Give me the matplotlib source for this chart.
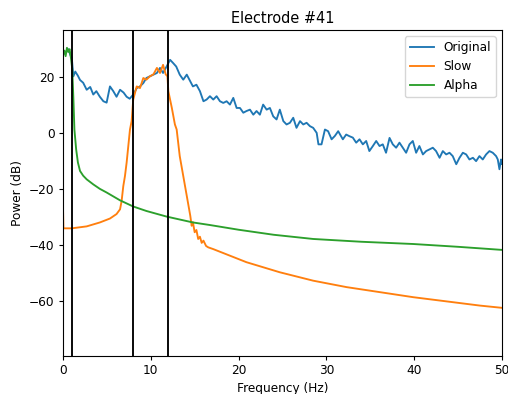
import numpy as np
import matplotlib.pyplot as plt

# Original PSD (dB)
orig_f = [0.0, 0.3, 0.6, 0.9, 1.0, 1.18, 1.4, 1.7, 1.94, 2.3, 2.7, 3.1, 3.45, 3.8, 4.2, 4.6,
          4.97, 5.35, 5.73, 6.1, 6.5, 6.9, 7.25, 7.6, 8.0, 8.4, 8.77, 9.15, 9.5, 9.9, 10.3,
          10.7, 11.05, 11.4, 11.8, 12.2, 12.56, 12.9, 13.3, 13.7, 14.1, 14.4, 14.8, 15.2,
          15.6, 16.0, 16.36, 16.74, 17.12, 17.5, 17.88, 18.26, 18.64, 19.02, 19.4, 19.78,
          20.16, 20.54, 20.9, 21.3, 21.68, 22.05, 22.43, 22.8, 23.2, 23.57, 23.95, 24.33,
          24.7, 25.1, 25.47, 25.85, 26.23, 26.6, 27.0, 27.37, 27.75, 28.13, 28.5, 28.9,
          29.1, 29.45, 29.84, 30.2, 30.6, 30.97, 31.35, 31.88, 32.26, 32.64, 33.02, 33.4,
          33.78, 34.16, 34.54, 34.9, 35.3, 35.68, 36.06, 36.43, 36.8, 37.2, 37.57, 37.95,
          38.33, 38.71, 39.09, 39.47, 39.85, 40.23, 40.6, 41.0, 41.37, 41.75, 42.13, 42.5,
          42.9, 43.27, 43.65, 44.03, 44.4, 44.8, 45.17, 45.55, 45.93, 46.3, 46.7, 47.06,
          47.44, 47.82, 48.2, 48.58, 48.96, 49.34, 49.53, 49.72, 49.9, 50.0]
orig_db = [28, 29, 30, 27.5, 27, 20.3, 22, 20.5, 19, 18, 15.5, 16.5, 13.8, 15, 13, 11.4,
           10.9, 16.7, 15, 13, 15.5, 14.5, 13, 12.3, 13.8, 16.1, 16.7, 17.9, 19.7, 20.3, 20.9,
           21.5, 23.3, 21.5, 23.8, 26.2, 25, 23.8, 20.9, 19.1, 20.9, 19.1, 16.7, 17.3,
           15, 11.4, 12, 13.2, 12, 13.2, 11.4, 10.8, 11.4, 10.2, 12.6, 9,
           9, 7.3, 7.9, 8.4, 6.6, 7.9, 6.6, 10.2, 8.4, 9, 6, 4.9,
           8.4, 4.3, 3.1, 3.7, 5.5, 1.9, 4.3, 3.1, 3.7, 2.5, 1.9, 0.1,
           -4, -4, 1.3, 0.7, -2.2, -1, 0.7, -2.2, -0.5, -1.1, -1.6, -3.4,
           -2.2, -4, -2.8, -6.4, -4.6, -2.8, -4.6, -4, -7, -1.7, -4, -5.2,
           -3.4, -5.2, -7, -4, -2.8, -7, -4.6, -7.6, -6.4, -5.8, -5.2, -6.4,
           -8.8, -6.4, -7.6, -7, -8.2, -11.1, -8.8, -7, -7.6, -9.4, -8.8, -10,
           -8.2, -9.4, -7.6, -6.4, -7, -8.2, -9.4, -12.9, -9.4, -11]

# Slow band (1-12 Hz) filtered PSD
slow_f = [0.0, 0.05, 1.0, 2.7, 4.2, 5.35, 6.1, 6.5, 6.68, 6.87, 7.06, 7.25, 7.44, 7.63,
          7.82, 8.0, 8.4, 8.77, 9.15, 9.5, 9.9, 10.3, 10.7, 11.05, 11.4, 11.7, 11.9,
          12.0, 12.4, 12.75, 12.95, 13.3, 13.7, 14.1, 14.5, 14.66, 14.8, 15.0, 15.2, 15.4,
          15.6, 15.8, 16.0, 16.3, 16.55, 17.1, 20.9, 24.7, 28.5, 32.3, 36.1, 39.9,
          43.7, 47.5, 50.0]
slow_db = [-26.5, -34, -34, -33.3, -31.9, -30.5, -28.9, -27.2, -24.2, -18.9, -15.3, -10.5,
           -4.6, 1.3, 4.3, 12, 16.7, 16.1, 19.7, 19.1, 20.3, 21, 23.3, 21.5, 24.4, 21, 20.3,
           15, 9, 3.1, 1.3, -8.2, -15.3, -22.4, -29.5, -33.1, -31.8, -35.4, -34.6, -37.8,
           -37, -39.2, -38.4, -40.3, -40.8, -41.4, -46.1, -49.7, -52.7, -55, -56.8, -58.6,
           -60.1, -61.6, -62.4]

# Alpha band filtered PSD
alpha_f = [0.0, 0.15, 0.3, 0.45, 0.6, 0.75, 0.9, 1.05, 1.18, 1.3, 1.5, 1.7, 1.94, 2.3,
           2.7, 3.45, 4.2, 4.97, 6.5, 8.0, 9.5, 11.8, 14.8, 16.7, 20.0, 24.0, 28.5, 34.0,
           39.9, 45.0, 50.0]
alpha_db = [28, 29.5, 27.5, 30.5, 29, 30, 27, 23, 12.7, 1.3, -5.8, -10.5, -13.5, -15.2,
            -16.5, -18.3, -19.9, -21.2, -24, -26.2, -27.8, -29.8, -31.9, -32.8, -34.5,
            -36.3, -37.8, -38.8, -39.6, -40.6, -41.7]

band_edges = [1, 8, 12]

plt.rcParams['font.size'] = 8.7
plt.rcParams['lines.linewidth'] = 1.35
plt.rcParams['xtick.major.size'] = 3.0
plt.rcParams['ytick.major.size'] = 3.0
plt.rcParams['xtick.major.pad'] = 3.0
plt.rcParams['ytick.major.pad'] = 3.0
plt.rcParams['axes.labelpad'] = 3.5
plt.rcParams['axes.titlepad'] = 5.2

fig = plt.figure(figsize=(5.08, 3.94), dpi=100)
ax = fig.add_axes([0.124, 0.0965, 0.864, 0.827])

ax.plot(orig_f, orig_db, label='Original')
ax.plot(slow_f, slow_db, label='Slow')
ax.plot(alpha_f, alpha_db, label='Alpha')
for edge in band_edges:
    ax.axvline(edge, color='k')

ax.set_xlim(0, 50)
ax.set_ylim(-79.6, 36.8)
ax.set_title('Electrode #41')
ax.set_xlabel('Frequency (Hz)')
ax.set_ylabel('Power (dB)')
ax.legend(loc='upper right')

fig.savefig('out.png')
